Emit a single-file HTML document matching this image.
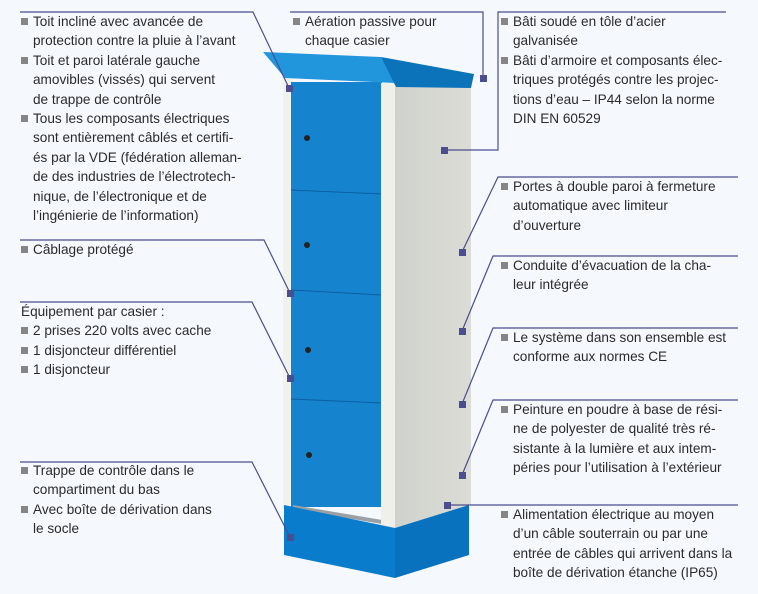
<!DOCTYPE html>
<html><head><meta charset="utf-8"><style>
body{margin:0;width:758px;height:594px;background:#f5f9fd;position:relative;overflow:hidden;font-family:"Liberation Sans",sans-serif;}
.t{position:absolute;font-size:13.6px;line-height:19.4px;color:#2a2a2a;white-space:nowrap;}
.t p{margin:0;position:relative;padding-left:12px;}
.t p.b:before{content:"";position:absolute;left:0;top:6px;width:7px;height:7px;background:#858585;}
svg{position:absolute;left:0;top:0;}
</style></head><body>
<svg width="758" height="594">
<defs>
<linearGradient id="side" x1="0" x2="1"><stop offset="0" stop-color="#cfd2cc"/><stop offset="1" stop-color="#dcdcd6"/></linearGradient>
</defs>
<!-- cabinet -->
<rect x="283" y="78" width="10" height="430" fill="#f2f2ec"/>
<rect x="291" y="82" width="91" height="425" fill="#1683cf"/>
<line x1="291" y1="190" x2="382" y2="194" stroke="#0b5fa0" stroke-width="1"/>
<line x1="291" y1="290" x2="382" y2="295" stroke="#0b5fa0" stroke-width="1"/>
<line x1="291" y1="399" x2="382" y2="403" stroke="#0b5fa0" stroke-width="1"/>
<polygon points="293,505 382,520 382,524 293,509" fill="#9aa0a4"/>
<rect x="381" y="83" width="14" height="445" fill="#f0f0ea"/>
<polygon points="395,87 471,84 471,505 395,528" fill="url(#side)"/>
<polygon points="284,505 395,528 395,578 284,555" fill="#0a7ccc"/>
<polygon points="395,528 469,505 469,555 395,578" fill="#0872bf"/>
<polygon points="263,52 381,57 396,83 285,78" fill="#2196dc"/>
<polygon points="381,57 474,74 471,88 396,87" fill="#0b73b9"/>
<g fill="#222"><circle cx="307" cy="138" r="3"/><circle cx="307" cy="245" r="3"/><circle cx="308" cy="350" r="3"/><circle cx="309" cy="455" r="3"/></g>
<!-- callouts -->
<g stroke="#4b4d8e" stroke-width="1.2" fill="none">
<polyline points="20,12 253,12 289,88"/>
<polyline points="20,240 264,240 290,293"/>
<polyline points="20,302 252,302 290,378"/>
<polyline points="20,462 252,462 290,537"/>
<polyline points="290,12 483,12 483,78"/>
<polyline points="726,12 498,12 498,150 444,150"/>
<polyline points="738,177 498,177 462,252"/>
<polyline points="738,256 493,256 462,331"/>
<polyline points="738,328 493,328 462,404"/>
<polyline points="738,400 493,400 462,475"/>
<polyline points="738,505 447,505"/>
</g>
<g fill="#4b4d8e">
<rect x="286" y="85" width="7" height="7"/><rect x="287" y="290" width="7" height="7"/>
<rect x="287" y="375" width="7" height="7"/><rect x="287" y="534" width="7" height="7"/>
<rect x="480" y="75" width="7" height="7"/><rect x="441" y="147" width="7" height="7"/>
<rect x="459" y="249" width="7" height="7"/><rect x="459" y="328" width="7" height="7"/>
<rect x="459" y="401" width="7" height="7"/><rect x="459" y="472" width="7" height="7"/>
<rect x="444" y="502" width="7" height="7"/>
</g>
</svg>
<div class="t" style="left:21px;top:12px">
<p class="b">Toit incliné avec avancée de<br>protection contre la pluie à l’avant</p>
<p class="b">Toit et paroi latérale gauche<br>amovibles (vissés) qui servent<br>de trappe de contrôle</p>
<p class="b">Tous les composants électriques<br>sont entièrement câblés et certifi-<br>és par la VDE (fédération alleman-<br>de des industries de l’électrotech-<br>nique, de l’électronique et de<br>l’ingénierie de l’information)</p>
</div>
<div class="t" style="left:21px;top:240px"><p class="b">Câblage protégé</p></div>
<div class="t" style="left:21px;top:302px">
<p style="padding-left:0">Équipement par casier :</p>
<p class="b">2 prises 220 volts avec cache</p>
<p class="b">1 disjoncteur différentiel</p>
<p class="b">1 disjoncteur</p>
</div>
<div class="t" style="left:21px;top:461px">
<p class="b">Trappe de contrôle dans le<br>compartiment du bas</p>
<p class="b">Avec boîte de dérivation dans<br>le socle</p>
</div>
<div class="t" style="left:293px;top:12px"><p class="b">Aération passive pour<br>chaque casier</p></div>
<div class="t" style="left:501px;top:12px">
<p class="b">Bâti soudé en tôle d’acier<br>galvanisée</p>
<p class="b">Bâti d’armoire et composants élec-<br>triques protégés contre les projec-<br>tions d’eau – IP44 selon la norme<br>DIN EN 60529</p>
</div>
<div class="t" style="left:501px;top:177px"><p class="b">Portes à double paroi à fermeture<br>automatique avec limiteur<br>d’ouverture</p></div>
<div class="t" style="left:501px;top:256px"><p class="b">Conduite d’évacuation de la cha-<br>leur intégrée</p></div>
<div class="t" style="left:501px;top:328px"><p class="b">Le système dans son ensemble est<br>conforme aux normes CE</p></div>
<div class="t" style="left:501px;top:400px"><p class="b">Peinture en poudre à base de rési-<br>ne de polyester de qualité très ré-<br>sistante à la lumière et aux intem-<br>péries pour l’utilisation à l’extérieur</p></div>
<div class="t" style="left:501px;top:505px"><p class="b">Alimentation électrique au moyen<br>d’un câble souterrain ou par une<br>entrée de câbles qui arrivent dans la<br>boîte de dérivation étanche (IP65)</p></div>
</body></html>
